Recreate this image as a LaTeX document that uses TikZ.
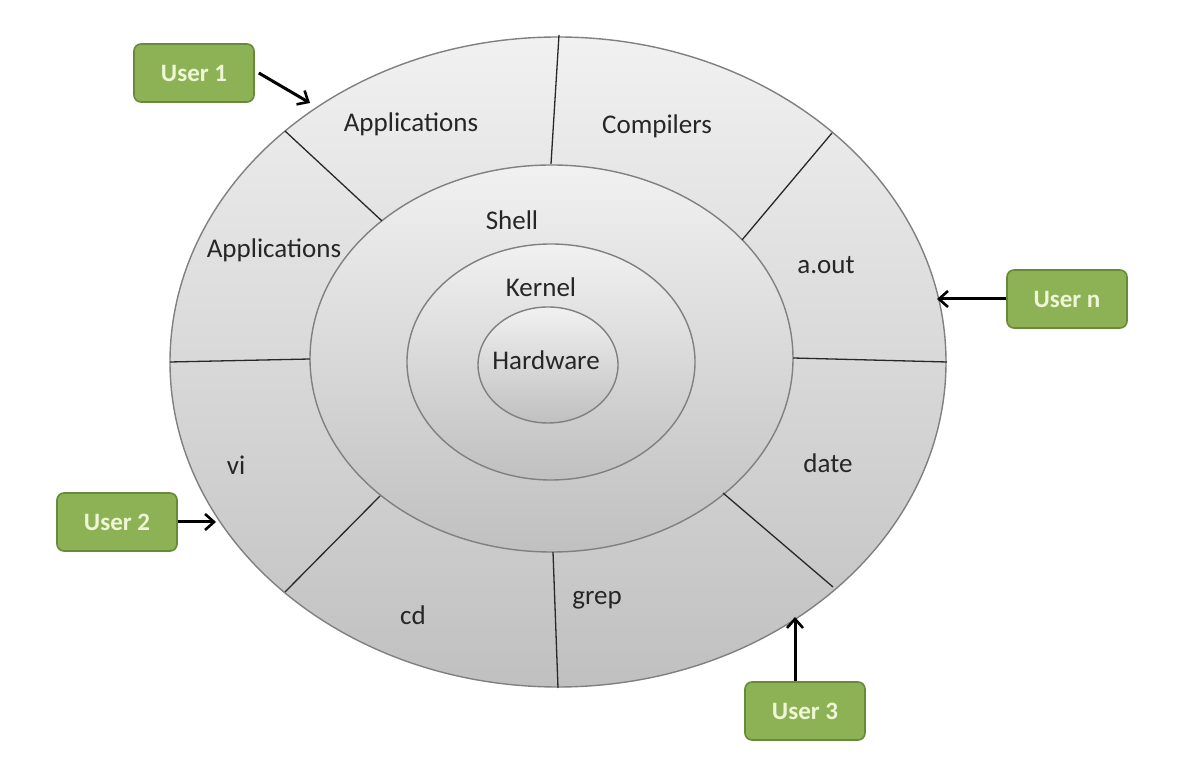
\documentclass[tikz,border=0pt]{standalone}
\usepackage{fontspec}
\setmainfont{Carlito}
\usetikzlibrary{arrows.meta}
\definecolor{ringedge}{RGB}{128,128,128}
\definecolor{cutline}{RGB}{40,40,40}
\definecolor{ringtop}{RGB}{241,241,241}
\definecolor{ringbottom}{RGB}{192,192,192}
\definecolor{usergreen}{RGB}{141,178,85}
\definecolor{userborder}{RGB}{104,136,58}
\definecolor{usertext}{RGB}{238,246,214}
\newcommand{\drawring}[4]{\draw[ring] (#1,#2) ellipse [x radius=#3, y radius=#4];}
\tikzset{
  ring/.style={draw=ringedge, line width=1.4pt, top color=ringtop, bottom color=ringbottom},
  cut/.style={draw=cutline, line width=1.3pt},
  ringtext/.style={text=black!85, font=\fontsize{27}{32}\selectfont},
  userbox/.style={draw=userborder, line width=1.6pt, fill=usergreen, rounded corners=7pt,
    minimum width=120pt, minimum height=58pt, text=usertext, font=\fontsize{25}{30}\selectfont\bfseries},
  userarrow/.style={-{Straight Barb[length=9pt,width=16pt,line width=2.6pt]}, line width=3pt, black}
}
\begin{document}
\begin{tikzpicture}[x=1pt,y=1pt]
\useasboundingbox (0,0) rectangle (1181,768);
\drawring{558}{406}{388}{325}
\drawring{551.5}{409.5}{241.5}{193.5}
\drawring{551}{406}{144}{118}
\drawring{548}{403}{70}{58}
\foreach \ax/\ay/\bx/\by in {551/604/559/733, 382/547/285/637, 310/409/170/406, 380/272/285/176,
    553/216/558/80, 723/275/833/181, 793/410/947/406, 742/528/832/635}{
  \draw[cut] (\ax,\ay) -- (\bx,\by);
}
\node[ringtext] (apptop) at (411,644) {Applications};
\node[ringtext] (compilers) at (657,642) {Compilers};
\node[ringtext] (appleft) at (274,518) {Applications};
\node[ringtext] (aout) at (826,503) {a.out};
\node[ringtext] (vi) at (236,303) {vi};
\node[ringtext] (date) at (828,305) {date};
\node[ringtext] (cd) at (413,153) {cd};
\node[ringtext] (grep) at (597,168) {grep};
\node[ringtext] (shell) at (512,548) {Shell};
\node[ringtext] (kernel) at (541,481) {Kernel};
\node[ringtext] (hardware) at (546,408) {Hardware};
\node[userbox] (user1) at (194,695) {User 1};
\node[userbox] (usern) at (1067,469) {User n};
\node[userbox] (user2) at (117,246) {User 2};
\node[userbox] (user3) at (805,57) {User 3};
\coordinate (hit1) at (310,665);
\coordinate (hitn) at (937,469);
\coordinate (hit2) at (216,246);
\coordinate (hit3) at (795,151);
\draw[userarrow] ([xshift=4pt]user1.east) -- (hit1);
\draw[userarrow] (usern.west) -- (hitn);
\draw[userarrow] (user2.east) -- (hit2);
\draw[userarrow] ([xshift=-10pt]user3.north) -- (hit3);
\end{tikzpicture}
\end{document}
